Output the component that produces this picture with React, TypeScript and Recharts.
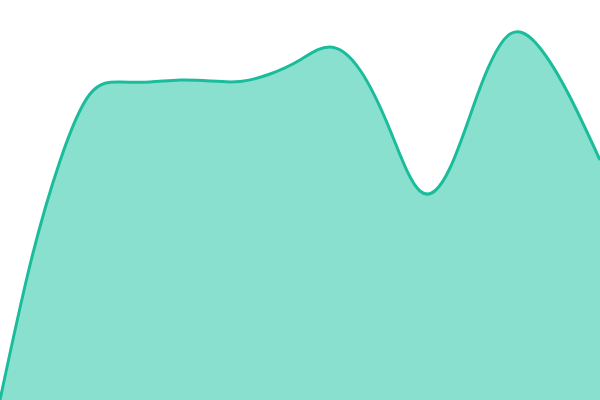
import React from "react";
import { AreaChart, Area, XAxis, YAxis } from "recharts";

const positions = [0, 30, 60, 90, 120, 150, 180, 210, 240, 270, 300, 330, 360, 390, 420, 450, 480, 510, 540, 570, 600];
const values = [0, 135, 239, 306, 318, 318, 320, 319, 318.5, 326, 340, 353, 330, 270, 209, 232, 312, 366, 352, 303, 240];

const data = positions.map((p, i) => ({ p, v: values[i] }));

export default function App() {
  return (
    <div style={{ position: "absolute", left: 0, top: 0, width: 600, height: 400, background: "#ffffff" }}>
      <AreaChart width={600} height={400} data={data} margin={{ top: 0, right: 0, bottom: 0, left: 0 }}>
        <XAxis dataKey="p" type="number" domain={[0, 600]} hide />
        <YAxis type="number" domain={[0, 400]} hide />
        <Area
          type="natural"
          dataKey="v"
          stroke="#1abc9c"
          strokeWidth={3}
          fill="#8ae0cf"
          fillOpacity={1}
          isAnimationActive={false}
          dot={false}
          activeDot={false}
        />
      </AreaChart>
    </div>
  );
}
